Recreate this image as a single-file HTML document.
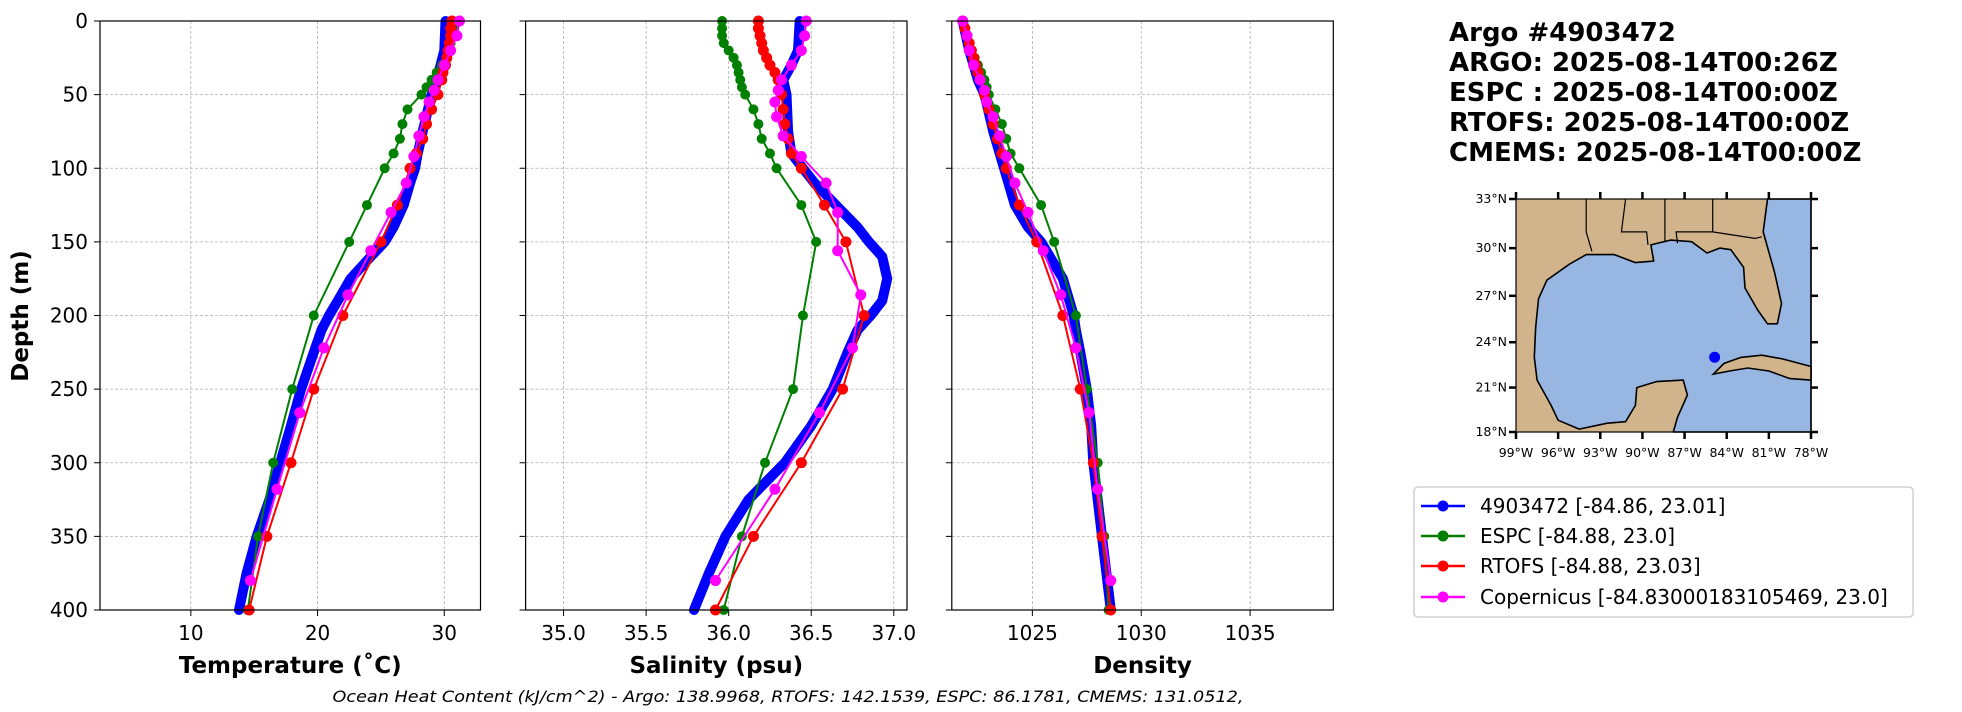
<!DOCTYPE html>
<html><head><meta charset="utf-8"><style>
html,body{margin:0;padding:0;background:#fff;}
svg{display:block;font-family:"DejaVu Sans","Liberation Sans",sans-serif;}
</style></head><body>
<svg id="fig" width="1962" height="712" viewBox="0 0 1962 712" xmlns="http://www.w3.org/2000/svg">
<g id="panels"></g>
<g font-weight="bold" font-size="26" fill="#000">
<text x="1449" y="41">Argo #4903472</text>
<text x="1449" y="71">ARGO: 2025-08-14T00:26Z</text>
<text x="1449" y="101">ESPC : 2025-08-14T00:00Z</text>
<text x="1449" y="131">RTOFS: 2025-08-14T00:00Z</text>
<text x="1449" y="161">CMEMS: 2025-08-14T00:00Z</text>
</g>
<g id="map"></g>
<g>
<rect x="1414" y="487" width="499" height="130" rx="4" fill="#fff" stroke="#d0d0d0" stroke-width="1.5"/>
<g font-size="20" fill="#000">
<g><line x1="1421" y1="506" x2="1465" y2="506" stroke="#0000ff" stroke-width="2.5"/><circle cx="1443" cy="506" r="5.5" fill="#0000ff"/><text x="1480" y="513">4903472 [-84.86, 23.01]</text></g>
<g><line x1="1421" y1="536" x2="1465" y2="536" stroke="#008000" stroke-width="2.5"/><circle cx="1443" cy="536" r="5.5" fill="#008000"/><text x="1480" y="543">ESPC [-84.88, 23.0]</text></g>
<g><line x1="1421" y1="566" x2="1465" y2="566" stroke="#ff0000" stroke-width="2.5"/><circle cx="1443" cy="566" r="5.5" fill="#ff0000"/><text x="1480" y="573">RTOFS [-84.88, 23.03]</text></g>
<g><line x1="1421" y1="597" x2="1465" y2="597" stroke="#ff00ff" stroke-width="2.5"/><circle cx="1443" cy="597" r="5.5" fill="#ff00ff"/><text x="1480" y="604">Copernicus [-84.83000183105469, 23.0]</text></g>
</g></g>
<text x="788" y="702" text-anchor="middle" font-style="italic" font-size="16" textLength="911" lengthAdjust="spacingAndGlyphs">Ocean Heat Content (kJ/cm^2) - Argo: 138.9968,  RTOFS: 142.1539,  ESPC: 86.1781,  CMEMS: 131.0512,</text>
<text transform="translate(28,316) rotate(-90)" text-anchor="middle" font-weight="bold" font-size="23">Depth (m)</text>
</svg>
<script>
// ---- data ----
const argoDepth = [0,20,30,40,50,75,90,100,110,125,140,150,160,175,190,200,210,225,250,275,300,325,350,375,400];
const argoTemp  = [30.1,30.0,29.7,29.4,29.0,28.3,27.9,27.7,27.3,26.8,26.0,25.3,24.2,22.6,21.6,20.9,20.3,19.7,18.7,17.9,17.05,16.2,15.2,14.4,13.8];
const argoSal   = [36.43,36.42,36.38,36.33,36.35,36.36,36.38,36.45,36.52,36.65,36.78,36.85,36.93,36.96,36.93,36.86,36.78,36.72,36.63,36.5,36.34,36.12,35.98,35.88,35.79];
const argoDens  = [1021.8,1022.1,1022.3,1022.5,1022.8,1023.2,1023.5,1023.7,1023.9,1024.2,1024.8,1025.4,1025.8,1026.4,1026.7,1026.9,1027.0,1027.2,1027.5,1027.7,1027.8,1028.0,1028.2,1028.4,1028.6];

const copDepth = [0,10,20,30,40,47,55,65,78,92,110,130,156,186,222,266,318,380];
const copTemp  = [31.2,31.0,30.5,30.0,29.5,29.2,28.8,28.4,28.0,27.6,27.0,25.8,24.2,22.4,20.5,18.6,16.8,14.7];
const copSal   = [36.47,36.46,36.44,36.38,36.32,36.3,36.28,36.29,36.33,36.44,36.59,36.66,36.66,36.80,36.75,36.55,36.28,35.92];
const copDens  = [1021.8,1022.0,1022.1,1022.3,1022.6,1022.8,1022.9,1023.2,1023.5,1023.8,1024.2,1024.8,1025.5,1026.3,1027.0,1027.6,1028.0,1028.6];

const rtofsDepth = [0,5,10,15,20,25,30,35,40,50,60,70,80,90,100,125,150,200,250,300,350,400];
const rtofsTemp  = [30.6,30.5,30.5,30.4,30.3,30.2,30.1,29.9,29.8,29.5,29.0,28.6,28.3,27.8,27.3,26.3,25.0,22.0,19.7,17.9,16.0,14.6];
const rtofsSal   = [36.18,36.18,36.19,36.2,36.21,36.23,36.25,36.28,36.3,36.32,36.33,36.34,36.36,36.38,36.44,36.58,36.71,36.82,36.69,36.44,36.15,35.92];
const rtofsDens  = [1021.8,1021.9,1022.0,1022.1,1022.2,1022.3,1022.4,1022.5,1022.6,1022.8,1023.0,1023.2,1023.4,1023.6,1023.8,1024.4,1025.2,1026.4,1027.2,1027.8,1028.2,1028.6];

const espcDepth = [0,5,10,15,20,25,30,35,40,45,50,60,70,80,90,100,125,150,200,250,300,350,400];
const espcTemp  = [30.7,30.7,30.6,30.5,30.4,30.2,29.8,29.4,29.0,28.6,28.2,27.1,26.7,26.5,26.0,25.3,23.9,22.5,19.7,18.0,16.5,15.3,14.5];
const espcSal   = [35.96,35.96,35.96,35.97,36.0,36.03,36.05,36.06,36.07,36.08,36.1,36.15,36.18,36.2,36.25,36.29,36.44,36.53,36.45,36.39,36.22,36.08,35.97];
const espcDens  = [1021.8,1021.9,1022.0,1022.1,1022.2,1022.35,1022.5,1022.65,1022.8,1022.9,1023.0,1023.3,1023.6,1023.8,1024.0,1024.4,1025.4,1026.0,1027.0,1027.5,1028.0,1028.3,1028.5];

const tempTicks = [10,20,30];
const salTicks = ["35.0","35.5","36.0","36.5","37.0"];
const densTicks = [1025,1030,1035];
const depthTicks = [0,50,100,150,200,250,300,350,400];

const floatLon = -84.86, floatLat = 23.01;
const latTicks = [18,21,24,27,30,33];
const lonTicks = [-99,-96,-93,-90,-87,-84,-81,-78];

// ---- drawing ----
const NS='http://www.w3.org/2000/svg';
function mk(tag, attrs, parent){const e=document.createElementNS(NS,tag);for(const k in attrs)e.setAttribute(k,attrs[k]);if(parent)parent.appendChild(e);return e;}
const plotTop=21,plotBot=610;
function yScale(d){return plotTop+(d/400)*(plotBot-plotTop);}
const panels=[
 {name:'temperature',x0:100,x1:480.5,min:2.83,max:32.86,ticks:tempTicks,label:'Temperature (˚C)',key:'T',showY:true},
 {name:'salinity',x0:525.6,x1:907,min:34.77,max:37.08,ticks:salTicks,label:'Salinity (psu)',key:'S',showY:false},
 {name:'density',x0:951.8,x1:1333.3,min:1021.3,max:1038.82,ticks:densTicks,label:'Density',key:'D',showY:false}
];
const series=[
 {name:'argo',color:'#0000ff',depth:argoDepth,T:argoTemp,S:argoSal,D:argoDens,lw:10,r:0},
 {name:'espc',color:'#008000',depth:espcDepth,T:espcTemp,S:espcSal,D:espcDens,lw:2,r:5},
 {name:'rtofs',color:'#ff0000',depth:rtofsDepth,T:rtofsTemp,S:rtofsSal,D:rtofsDens,lw:2,r:5.5},
 {name:'copernicus',color:'#ff00ff',depth:copDepth,T:copTemp,S:copSal,D:copDens,lw:2,r:5.5}
];
const root=document.getElementById('panels');
panels.forEach(p=>{
  const g=mk('g',{},root);
  
  
  const xs=v=>p.x0+(v-p.min)/(p.max-p.min)*(p.x1-p.x0);
  depthTicks.forEach(d=>{
    const y=yScale(d);
    const l=mk('line',{x1:p.x0,x2:p.x1,y1:y,y2:y,stroke:'#b0b0b0','stroke-width':0.8,'stroke-dasharray':'3,2'},g);
    
    
    mk('line',{x1:p.x0-6,x2:p.x0,y1:y,y2:y,stroke:'#000','stroke-width':1},g);
    if(p.showY){
      const t=mk('text',{x:p.x0-12,y:y+7,'text-anchor':'end','font-size':20},g);
      t.textContent=d;
      
      
    }
  });
  p.ticks.forEach(v=>{
    const x=xs(parseFloat(v));
    const l=mk('line',{x1:x,x2:x,y1:plotTop,y2:plotBot,stroke:'#b0b0b0','stroke-width':0.8,'stroke-dasharray':'3,2'},g);
    
    
    mk('line',{x1:x,x2:x,y1:plotBot,y2:plotBot+6,stroke:'#000','stroke-width':1},g);
    const t=mk('text',{x:x,y:640,'text-anchor':'middle','font-size':20},g);
    t.textContent=v;
    
    
  });
  const clipId='clip-'+p.name;
  const clip=mk('clipPath',{id:clipId},g);
  mk('rect',{x:p.x0,y:plotTop-8,width:p.x1-p.x0,height:plotBot-plotTop+16},clip);
  const sg=mk('g',{'clip-path':'url(#'+clipId+')'},g);
  series.forEach(s=>{
    const pts=s.depth.map((d,i)=>xs(s[p.key][i]).toFixed(1)+','+yScale(d).toFixed(1)).join(' ');
    const pl=mk('polyline',{points:pts,fill:'none',stroke:s.color,'stroke-width':s.lw,'stroke-linejoin':'round','stroke-linecap':'round'},sg);
    
    
    if(s.r>0){
      s.depth.forEach((d,i)=>{
        const c=mk('circle',{cx:xs(s[p.key][i]),cy:yScale(d),r:s.r,fill:s.color},sg);
        
        
      });
    }
  });
  const fr=mk('rect',{x:p.x0,y:plotTop,width:p.x1-p.x0,height:plotBot-plotTop,fill:'none',stroke:'#000','stroke-width':1.2},g);
  
  
  const lab=mk('text',{x:(p.x0+p.x1)/2,y:673,'text-anchor':'middle','font-size':23,'font-weight':'bold'},g);
  lab.textContent=p.label;
  
  
});

// ---- map ----
const mg=document.getElementById('map');
const mx0=1516,mx1=1811,my0=199,my1=432;
const merc=l=>Math.log(Math.tan(Math.PI/4+l*Math.PI/360));
const mLon=lon=>mx0+(lon+99)/21*(mx1-mx0);
const mLat=lat=>my1-(merc(lat)-merc(18))/(merc(33)-merc(18))*(my1-my0);
const P=arr=>arr.map(a=>mLon(a[0]).toFixed(1)+','+mLat(a[1]).toFixed(1)).join(' ');
const land=mk('rect',{x:mx0,y:my0,width:mx1-mx0,height:my1-my0,fill:'#d2b48c'},mg);


const water=[[-81.1,33],[-81.4,31],[-80.6,28.5],[-80.1,26.5],[-80.4,25.2],[-81.1,25.2],[-81.8,26.1],[-82.7,27.5],[-82.8,28.8],[-83.7,29.9],[-84.5,30.0],[-85.4,29.7],[-86.5,30.4],[-88,30.5],[-89.4,30.2],[-89.2,29.2],[-90.5,29.1],[-92,29.6],[-94,29.6],[-95.2,29],[-96.8,28],[-97.4,26.8],[-97.6,25],[-97.7,23],[-97.5,21.5],[-96.5,19.8],[-96,18.8],[-94.5,18.2],[-92.5,18.6],[-91.2,18.7],[-90.5,19.8],[-90.4,21],[-89,21.4],[-87.1,21.5],[-86.8,20.5],[-87.5,19],[-87.8,18],[-78,18],[-78,33]];
const wp=mk('polygon',{points:P(water),fill:'#97b6e1',stroke:'#000','stroke-width':1.6,'stroke-linejoin':'round'},mg);


const cuba=[[-84.95,21.9],[-84.2,22.6],[-83,23],[-81.5,23.15],[-80,22.9],[-78,22.4],[-78,21.5],[-79.5,21.6],[-81,22.1],[-82.5,22.3],[-83.8,22.1]];
const cubaPoly=mk('polygon',{points:P(cuba),fill:'#d2b48c',stroke:'#000','stroke-width':1.6},mg);


const borders=[[[-94,33],[-94,31],[-93.6,29.8]],[[-91.2,33],[-91.5,31],[-89.7,31],[-89.6,30.2]],[[-88.4,33],[-88.4,30.4]],[[-85,33],[-85,31],[-87.6,31],[-87.5,30.3]],[[-85,31],[-82,30.6],[-81.5,30.7]]];
borders.forEach(b=>{const l=mk('polyline',{points:P(b),fill:'none',stroke:'#000','stroke-width':1.2},mg);
 
 });
mk('rect',{x:mx0,y:my0,width:mx1-mx0,height:my1-my0,fill:'none',stroke:'#000','stroke-width':1.2},mg);
latTicks.forEach(l=>{const y=mLat(l);
 mk('line',{x1:mx0-7,x2:mx0,y1:y,y2:y,stroke:'#000','stroke-width':2.5},mg);
 mk('line',{x1:mx1,x2:mx1+7,y1:y,y2:y,stroke:'#000','stroke-width':2.5},mg);
 const t=mk('text',{x:mx0-9,y:y+4,'text-anchor':'end','font-size':12.5},mg);t.textContent=l+'°N';
 
 });
lonTicks.forEach(l=>{const x=mLon(l);
 mk('line',{x1:x,x2:x,y1:my1,y2:my1+7,stroke:'#000','stroke-width':2.5},mg);
 mk('line',{x1:x,x2:x,y1:my0-7,y2:my0,stroke:'#000','stroke-width':2.5},mg);
 const t=mk('text',{x:x,y:457,'text-anchor':'middle','font-size':12.5},mg);t.textContent=(-l)+'°W';
 
 });
const fm=mk('circle',{cx:mLon(floatLon),cy:mLat(floatLat),r:5.5,fill:'#0000ff'},mg);


</script>
</body></html>
